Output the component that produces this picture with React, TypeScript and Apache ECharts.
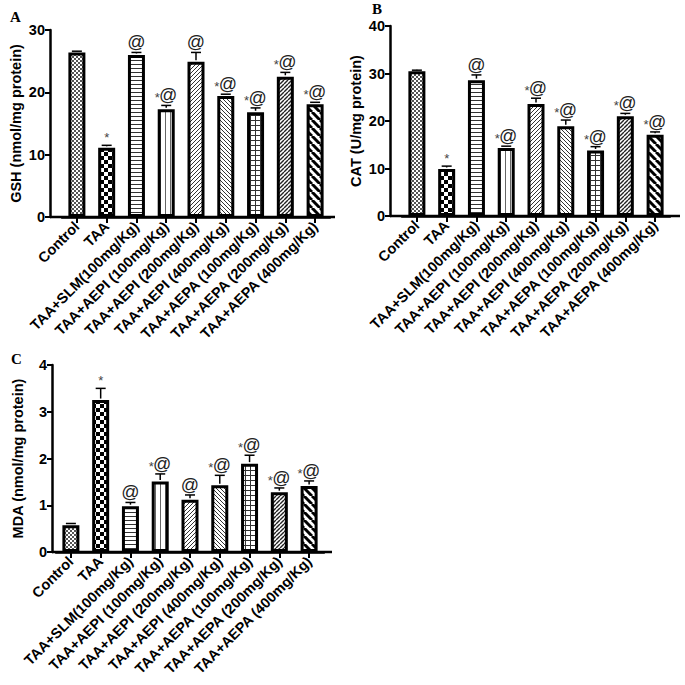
import React, { useEffect, useRef } from "react";
import * as echarts from "echarts";

const categories = [
  "Control",
  "TAA",
  "TAA+SLM(100mg/Kg)",
  "TAA+AEPI (100mg/Kg)",
  "TAA+AEPI (200mg/Kg)",
  "TAA+AEPI (400mg/Kg)",
  "TAA+AEPA (100mg/Kg)",
  "TAA+AEPA (200mg/Kg)",
  "TAA+AEPA (400mg/Kg)",
];

const gshMean = [26.4, 11.1, 26.0, 17.3, 24.9, 19.4, 16.8, 22.5, 18.1];
const gshSem = [0.2, 0.4, 0.4, 0.6, 1.5, 0.3, 0.7, 0.7, 0.3];
const gshSig = ["", "*", "@", "*@", "@", "*@", "*@", "*@", "*@"];

const catMean = [30.5, 9.9, 28.6, 14.3, 23.6, 18.9, 13.8, 21.0, 17.1];
const catSem = [0.2, 0.6, 1.1, 0.4, 1.2, 1.3, 0.8, 0.6, 0.6];
const catSig = ["", "*", "@", "*@", "*@", "*@", "*@", "*@", "*@"];

const mdaMean = [0.57, 3.25, 0.98, 1.51, 1.12, 1.43, 1.89, 1.28, 1.41];
const mdaSem = [0.04, 0.25, 0.08, 0.16, 0.1, 0.21, 0.18, 0.09, 0.11];
const mdaSig = ["", "*", "@", "*@", "@", "*@", "*@", "*@", "*@"];

const FONT = "Arial, 'Liberation Sans', sans-serif";
const SERIF = "'Times New Roman', 'Liberation Serif', serif";

function tile(size: number, draw: (ctx: CanvasRenderingContext2D, s: number) => void) {
  const c = document.createElement("canvas");
  c.width = size;
  c.height = size;
  const ctx = c.getContext("2d")!;
  ctx.fillStyle = "#fff";
  ctx.fillRect(0, 0, size, size);
  ctx.fillStyle = "#000";
  ctx.strokeStyle = "#000";
  draw(ctx, size);
  return { image: c.toDataURL(), repeat: "repeat", imageWidth: size, imageHeight: size };
}

function diag(ctx: CanvasRenderingContext2D, s: number, dir: number, w: number, color = "#000") {
  ctx.strokeStyle = color;
  ctx.lineWidth = w;
  for (let k = -1; k <= 1; k++) {
    ctx.beginPath();
    if (dir > 0) {
      ctx.moveTo(k * s, s);
      ctx.lineTo(k * s + s, 0);
    } else {
      ctx.moveTo(k * s, 0);
      ctx.lineTo(k * s + s, s);
    }
    ctx.stroke();
  }
}

function makePatterns() {
  return [
    tile(4, (c) => {
      c.fillStyle = "#555";
      c.fillRect(0, 0, 2, 2);
      c.fillRect(2, 2, 2, 2);
    }),
    tile(8, (c) => {
      c.fillRect(0, 0, 4, 4);
      c.fillRect(4, 4, 4, 4);
    }),
    tile(4, (c) => {
      c.fillStyle = "#333";
      c.fillRect(0, 0, 4, 1);
    }),
    tile(5, (c) => {
      c.fillStyle = "#666";
      c.fillRect(0, 0, 1, 5);
    }),
    tile(4, (c, s) => diag(c, s, 1, 1, "#333")),
    tile(4, (c, s) => diag(c, s, -1, 1, "#333")),
    tile(5, (c) => {
      c.fillStyle = "#333";
      c.fillRect(0, 0, 5, 1);
      c.fillRect(0, 0, 1, 5);
    }),
    tile(4, (c, s) => diag(c, s, 1, 1.4, "#222")),
    tile(8, (c, s) => diag(c, s, -1, 3, "#000")),
  ];
}

export default function App() {
  const ref = useRef<HTMLDivElement>(null);

  useEffect(() => {
    if (!ref.current) return;
    const chart = echarts.init(ref.current, undefined, { renderer: "svg" });
    const patterns = makePatterns();

    const grids = [
      { left: 62, top: 30, width: 268, height: 187 },
      { left: 402, top: 26, width: 268, height: 190 },
      { left: 56, top: 365, width: 268, height: 187 },
    ];
    const yMeta = [
      { name: "GSH (nmol/mg protein)", max: 30, interval: 10, offset: 12 },
      { name: "CAT (U/mg protein)", max: 40, interval: 10, offset: 12 },
      { name: "MDA (nmol/mg protein)", max: 4, interval: 1, offset: 4 },
    ];
    const means = [gshMean, catMean, mdaMean];
    const sems = [gshSem, catSem, mdaSem];
    const sigs = [gshSig, catSig, mdaSig];

    const xAxis = grids.map((_, i) => ({
      type: "category",
      gridIndex: i,
      data: categories,
      axisLine: { show: true, lineStyle: { color: "#000", width: 2.5 } },
      axisTick: { show: true, alignWithLabel: true, length: 6, lineStyle: { color: "#000", width: 2 } },
      axisLabel: {
        interval: 0,
        rotate: 45,
        margin: 7,
        color: "#000",
        fontSize: 14.5,
        fontWeight: "bold",
        fontFamily: FONT,
      },
      splitLine: { show: false },
    }));

    const yAxis = yMeta.map((m, i) => ({
      type: "value",
      gridIndex: i,
      min: 0,
      max: m.max,
      interval: m.interval,
      offset: m.offset,
      name: m.name,
      nameLocation: "middle",
      nameGap: 27,
      nameTextStyle: { color: "#000", fontSize: 14.5, fontWeight: "bold", fontFamily: FONT },
      axisLine: { show: true, lineStyle: { color: "#000", width: 2.5 } },
      axisTick: { show: true, length: 5, lineStyle: { color: "#000", width: 2 } },
      axisLabel: { color: "#000", fontSize: 14.5, fontWeight: "bold", fontFamily: FONT, margin: 5 },
      splitLine: { show: false },
    }));

    const series: any[] = [];
    for (let p = 0; p < 3; p++) {
      series.push({
        type: "bar",
        xAxisIndex: p,
        yAxisIndex: p,
        barWidth: 17,
        data: means[p].map((v, i) => ({
          value: v,
          itemStyle: { color: patterns[i], borderColor: "#000", borderWidth: 3 },
        })),
        z: 2,
      });
      const sig = sigs[p];
      series.push({
        type: "custom",
        xAxisIndex: p,
        yAxisIndex: p,
        z: 3,
        data: means[p].map((v, i) => [i, v, sems[p][i]]),
        renderItem: (params: any, api: any) => {
          const idx = params.dataIndex;
          const x = api.value(0);
          const m = api.value(1);
          const s = api.value(2);
          const b = api.coord([x, m]);
          const t = api.coord([x, m + s]);
          const cx = b[0];
          const ty = t[1];
          const children: any[] = [
            { type: "line", shape: { x1: cx, y1: b[1] - 1.5, x2: cx, y2: ty }, style: { stroke: "#000", lineWidth: 1.5 } },
            { type: "line", shape: { x1: cx - 5, y1: ty, x2: cx + 5, y2: ty }, style: { stroke: "#000", lineWidth: 1.5 } },
          ];
          const a = sig[idx];
          const at = (text: string, dx: number, size: number, fill: string) => ({
            type: "text",
            style: { text, x: cx + dx, y: ty - 1, align: "center", verticalAlign: "bottom", fontSize: size, fontFamily: FONT, fill },
          });
          if (a === "*") children.push(at("*", 0, 13, "#444"));
          else if (a === "@") children.push(at("@", 0, 18, "#222"));
          else if (a === "*@") {
            children.push(at("@", 2, 18, "#222"));
            children.push(at("*", -9, 13, "#444"));
          }
          return { type: "group", children };
        },
      });
    }

    const option: any = {
      animation: false,
      backgroundColor: "#fff",
      title: [
        { text: "A", left: 10, top: 9 },
        { text: "B", left: 372, top: 1 },
        { text: "C", left: 11, top: 351 },
      ].map((t) => ({
        ...t,
        padding: 0,
        textStyle: { fontFamily: SERIF, fontWeight: "bold", fontSize: 15, color: "#000" },
      })),
      grid: grids,
      xAxis,
      yAxis,
      series,
      graphic: [
        { type: "line", shape: { x1: 50, y1: 217, x2: 335, y2: 217 }, style: { stroke: "#000", lineWidth: 2.5 }, z: 1 },
        { type: "line", shape: { x1: 390, y1: 216, x2: 680, y2: 216 }, style: { stroke: "#000", lineWidth: 2.5 }, z: 1 },
        { type: "line", shape: { x1: 52, y1: 552, x2: 332, y2: 552 }, style: { stroke: "#000", lineWidth: 2.5 }, z: 1 },
      ],
    };
    chart.setOption(option);
    return () => chart.dispose();
  }, []);

  return (
    <div
      ref={ref}
      style={{ position: "fixed", left: 0, top: 0, width: 685, height: 685, background: "#fff" }}
    />
  );
}
